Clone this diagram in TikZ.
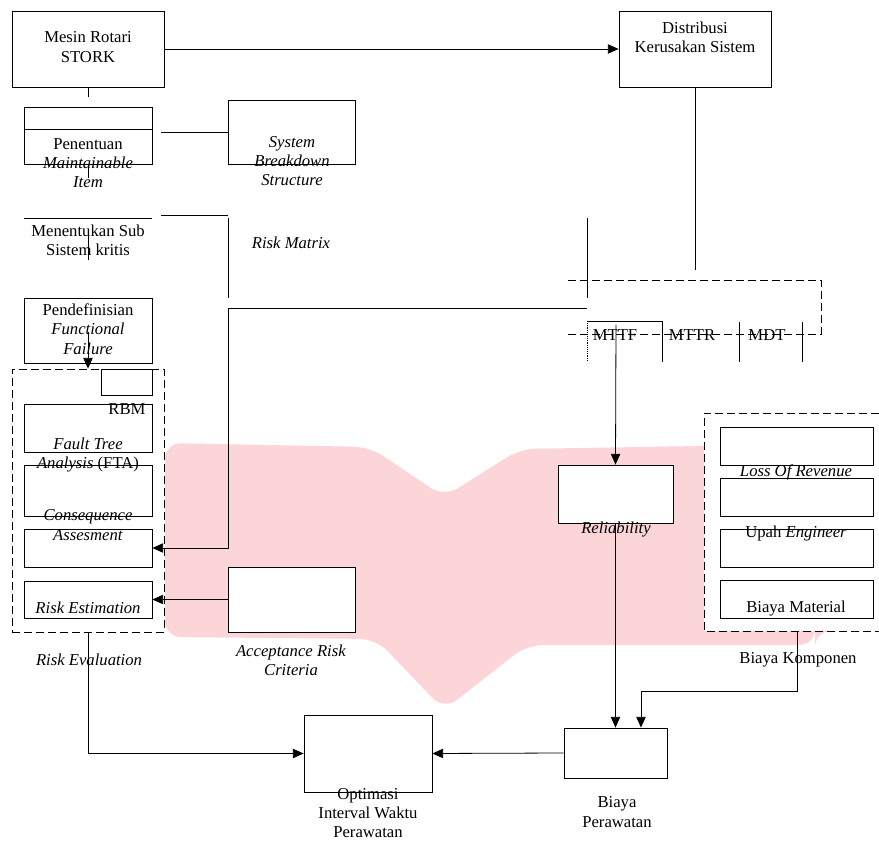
\documentclass[tikz,border=0pt]{standalone}
\usepackage{fontspec}
\setmainfont{Liberation Serif}
\usetikzlibrary{arrows.meta}
\definecolor{wmpink}{RGB}{252,213,217}

\tikzset{
  blok/.style 2 args={draw, fill=white, inner sep=0pt, minimum width=#1*0.75pt, minimum height=#2*0.75pt},
  teks/.style={align=center, inner sep=0pt, font=\fontsize{12.5}{14.5}\selectfont},
  panah/.style={-{Triangle[length=8pt,width=7pt]}},
  putus/.style={dash pattern=on 6pt off 3pt},
}

\begin{document}
\begin{tikzpicture}[x=0.75pt, y=-0.75pt, line width=0.6pt]
        \useasboundingbox (0,0) rectangle (879,841);

        % Draw the watermark
        \fill[wmpink, rounded corners=12pt] (165,443) -- (370,447) -- (444,497) -- (520,449) -- (879,443) -- (879,631)
            -- (815,631) -- (815,645) -- (527,645) -- (444,710) -- (376,639) -- (165,637) -- cycle;

        % Draw the boxes
        \node[blok={152}{76}] (mesin) at (88,49) {};
        \node[blok={152}{76}] (distribusi) at (695,49) {};
        \node[blok={128}{57}] (penentuan) at (88,135.5) {};
        \node[blok={127}{64}] (sbs) at (291.5,132) {};
        \node[blok={128}{65}] (definisi) at (88,330.5) {};
        \node[blok={152}{263}, putus] (rbm) at (88,500.5) {};
        \node[blok={51}{26}] (rbmkecil) at (126.5,382) {};
        \node[blok={128}{48}] (fta) at (88,428) {};
        \node[blok={128}{51}] (konsekuensi) at (88,490.5) {};
        \node[blok={128}{38}] (kosong) at (88,548) {};
        \node[blok={128}{37}] (estimasi) at (88,599.5) {};
        \node[blok={127}{65}] (acceptance) at (291.5,599.5) {};
        \node[blok={115}{58}] (reliability) at (615.5,494) {};
        \node[blok={128}{77}] (optimasi) at (368,753.5) {};
        \node[blok={103}{50}] (biaya) at (615.5,753) {};
        \draw (penentuan.west |- 0,129) -- (penentuan.east |- 0,129);

        % Draw the cost group
        \fill[white] (704,413) rectangle (879,631);
        \draw[putus] (879,413) -- (704,413) -- (704,631) -- (879,631);
        \foreach \y [count=\i] in {446, 497, 548, 599.5} {
                \node[blok={153}{38}] (komponen\i) at (796.5,\y) {};
            }

        % Label the boxes
        \node[teks] (t-mesin) at (88,47) {Mesin Rotari\\STORK};
        \node[teks] (t-distribusi) at (695,37) {Distribusi\\Kerusakan Sistem};
        \node[teks] (t-penentuan) at (88,163) {Penentuan\\\textit{Maintainable}\\\textit{Item}};
        \node[teks] (t-sbs) at (292,161) {\textit{System}\\\textit{Breakdown}\\\textit{Structure}};
        \node[teks] (t-kritis) at (88,240) {Menentukan Sub\\Sistem kritis};
        \node[teks] (t-matrix) at (291,243) {\textit{Risk Matrix}};
        \node[teks] (t-definisi) at (88,329) {Pendefinisian\\\textit{Functional}\\\textit{Failure}};
        \node[teks] (t-rbm) at (127,409) {RBM};
        \node[teks] (t-fta) at (88,455) {\textit{Fault Tree}\\\textit{Analysis} (FTA)};
        \node[teks] (t-konsekuensi) at (88,525) {\textit{Consequence}\\\textit{Assesment}};
        \node[teks] (t-estimasi) at (88,608) {\textit{Risk Estimation}};
        \node[teks] (t-evaluasi) at (89,660) {\textit{Risk Evaluation}};
        \node[teks] (t-acceptance) at (291,660) {\textit{Acceptance Risk}\\\textit{Criteria}};
        \node[teks] (t-mttf) at (615,335) {MTTF};
        \node[teks] (t-mttr) at (692,335) {MTTR};
        \node[teks] (t-mdt) at (767,335) {MDT};
        \node[teks] (t-reliability) at (616,530) {\textit{Reliability}};
        \node[teks] (t-revenue) at (796,472) {\textit{Loss Of Revenue}};
        \node[teks] (t-upah) at (796,533) {Upah \textit{Engineer}};
        \node[teks] (t-material) at (796,609) {Biaya Material};
        \node[teks] (t-komponen) at (798,660) {Biaya Komponen};
        \node[teks] (t-optimasi) at (368,813) {Optimasi\\Interval Waktu\\Perawatan};
        \node[teks] (t-biaya) at (617,812) {Biaya\\Perawatan};

        % Draw the loose lines
        \coordinate (sbskiri) at (161,132);
        \draw (mesin.south) -- ++(0,10);
        \draw (penentuan.south) -- ++(0,14);
        \draw (sbskiri) -- (sbs.west);
        \draw (161,215) -- (228,215);
        \draw (228,218) -- (228,298);
        \draw (587,218) -- (587,298);
        \draw (24,218) -- (152,218);
        \draw (88,233) -- (88,260);
        \draw (distribusi.south) -- (695,270);

        % Draw the MTTF group
        \draw[putus] (568,280) -- (821,280) -- (821,334) -- (568,334);
        \draw (587,321) -- (662,321) -- (662,362);
        \draw[densely dotted, line width=0.4pt] (587,321) -- (587,362);
        \foreach \x in {739, 802} {
                \draw (\x,322) -- (\x,362);
            }

        % Draw the arrows
        \draw[panah] (mesin.east) -- (distribusi.west);
        \draw[panah] (88,332) -- (rbm.north);
        \draw[panah] (587,308) -- (228,308) |- (kosong.east);
        \draw[panah] (acceptance.west) -- (estimasi.east);
        \draw[panah] (616,325) -- (reliability.north);
        \draw[panah] (reliability.south) -- (biaya.north);
        \draw[panah] (797,631) -- (797,691) -| (biaya.north -| 641,0);
        \draw[panah] (biaya.west) -- (optimasi.east);
        \draw[panah] (rbm.south) |- (optimasi.west);
    \end{tikzpicture}
\end{document}
